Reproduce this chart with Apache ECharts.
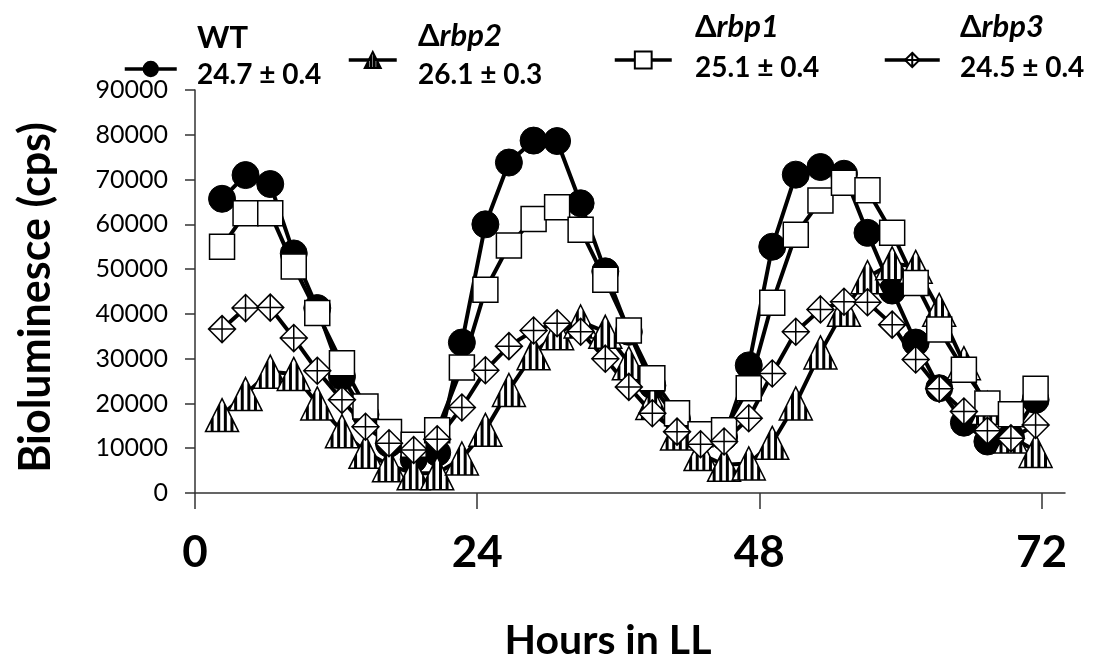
<!DOCTYPE html>
<html><head><meta charset="utf-8">
<script src="https://cdn.jsdelivr.net/npm/echarts@6/dist/echarts.min.js"></script>
<style>html,body{margin:0;padding:0;background:#fff}#c{width:1106px;height:660px}</style>
</head><body><div id="c"></div>
<script>
// ---- data ----
const hours = [2.3, 4.3, 6.4, 8.4, 10.4, 12.5, 14.5, 16.5, 18.6, 20.6, 22.7, 24.7, 26.7, 28.8, 30.8, 32.8, 34.9, 36.9, 38.9, 41.0, 43.0, 45.0, 47.1, 49.1, 51.1, 53.2, 55.2, 57.2, 59.3, 61.3, 63.3, 65.4, 67.4, 69.4, 71.5];
const wt   = [65700, 71000, 69000, 53500, 41300, 26000, 17500, 11000, 7500, 9000, 33600, 60000, 73800, 78700, 78600, 64700, 49500, 36000, 24000, 16500, 12000, 12500, 28500, 55000, 71100, 72800, 71300, 58100, 45200, 33600, 23400, 15700, 11500, 12500, 20800];
const rbp2 = [17400, 22100, 27100, 26600, 20000, 13800, 9200, 6200, 4400, 4400, 7700, 14100, 23000, 31200, 35700, 38300, 36000, 29000, 20100, 13300, 8700, 6300, 6600, 11200, 20000, 31400, 40900, 48200, 51300, 50500, 40900, 29000, 19000, 12600, 9400];
const rbp1 = [55000, 62500, 62500, 50600, 40200, 29000, 19300, 13600, 10800, 14000, 28000, 45400, 55300, 61200, 63800, 58800, 47600, 36300, 25600, 17800, 13100, 14000, 23400, 42500, 57700, 65300, 69300, 67600, 58100, 46900, 36500, 27500, 20000, 17600, 23300];
const rbp3 = [36600, 41300, 41400, 34600, 27300, 20800, 14800, 11100, 9600, 12000, 19100, 27400, 32800, 36300, 37900, 36000, 30000, 23700, 17800, 13700, 10900, 11500, 16700, 26700, 36000, 41000, 42700, 42600, 37600, 29800, 23300, 18200, 13900, 12200, 15200];
const seriesNames = ['WT', 'Δrbp2', 'Δrbp1', 'Δrbp3'];
const strainItalic = ['', 'rbp2', 'rbp1', 'rbp3'];
const periods = ['24.7 ± 0.4', '26.1 ± 0.3', '25.1 ± 0.4', '24.5 ± 0.4'];
const xTicks = [0, 24, 48, 72];
const xTitle = 'Hours in LL';
const yTitle = 'Bioluminesce (cps)';

// ---- styles ----
const FONT = 'Lato, "Open Sans", sans-serif';
// striped triangle: outline + vertical stripes (pairs of hairlines form each black band)
const stripeXs = [-6, -2, 2, 6];
let triPath = 'path://M0,0L10,20L-10,20Z';
stripeXs.forEach(x => {
  [x - 0.45, x + 0.45].forEach(xx => {
    const top = 2 * Math.abs(xx);
    triPath += 'M' + xx + ',' + top + 'L' + xx + ',20';
  });
});
const diamondPath = 'path://M0,-10L10,0L0,10L-10,0Z M0,-10L0,10 M-10,0L10,0';

const pair = arr => hours.map((h, i) => [h, arr[i]]);

const symbols = ['circle', triPath, 'rect', diamondPath];
const sizes = [27, 33, 25, 27];
const fills = ['#000', '#fff', '#fff', '#fff'];
const datas = [wt, rbp2, rbp1, rbp3];

const legIconLeft = [123, 347, 613, 883];
const legIconW = [52, 48, 57, 55];
const legIconH = [18, 20, 21, 18];
const legIconY = [69, 60, 60, 60];
const legTextLeft = [197, 418, 695, 960];
const nameTop = [22, 20, 11, 11];
const valTop = [61, 61, 54, 54];

const chart = echarts.init(document.getElementById('c'), null, { renderer: 'canvas' });
chart.setOption({
  animation: false,
  backgroundColor: '#fff',
  grid: { left: 195, right: 41, top: 90, bottom: 167, containLabel: false, outerBoundsMode: 'none' },
  xAxis: {
    type: 'value', min: 0, max: 74, interval: 24,
    axisLine: { show: true, onZero: false, lineStyle: { color: '#333', width: 1.5 } },
    axisTick: { show: true, customValues: xTicks, length: 16, lineStyle: { color: '#333', width: 1.5 } },
    axisLabel: { customValues: xTicks, fontFamily: FONT, fontWeight: 'bold', fontSize: 44, color: '#000', margin: 38 },
    splitLine: { show: false },
    name: xTitle, nameLocation: 'middle', nameGap: 127,
    nameTextStyle: { fontFamily: FONT, fontWeight: 'bold', fontSize: 41, color: '#000', padding: [0, 44, 0, 0] }
  },
  yAxis: {
    type: 'value', min: 0, max: 90000, interval: 10000,
    axisLine: { show: true, lineStyle: { color: '#333', width: 1.5 } },
    axisTick: { show: true, length: 10, lineStyle: { color: '#333', width: 1.5 } },
    axisLabel: { fontFamily: FONT, fontSize: 25, color: '#000', margin: 27, formatter: v => String(v) },
    splitLine: { show: false },
    name: yTitle, nameLocation: 'middle', nameRotate: 90, nameGap: 137,
    nameTextStyle: { fontFamily: FONT, fontWeight: 'bold', fontSize: 43, color: '#000', padding: [0, 12, 0, 0] }
  },
  legend: seriesNames.map((n, i) => ({
    data: [n], left: legIconLeft[i], top: legIconY[i] - legIconH[i] / 2, padding: 0,
    itemWidth: legIconW[i], itemHeight: legIconH[i],
    selectedMode: false,
    formatter: () => '',
    textStyle: { fontSize: 1 },
    lineStyle: { color: '#000', width: 3.5 }
  })),
  graphic: seriesNames.map((n, i) => ({
    type: 'text', left: legTextLeft[i], top: nameTop[i], silent: true,
    style: i === 0
      ? { text: n, font: 'bold 31px ' + FONT, fill: '#000' }
      : { text: '{d|Δ}{i|' + strainItalic[i] + '}', fill: '#000',
          rich: { d: { fontFamily: FONT, fontWeight: 'bold', fontSize: 31, fill: '#000' },
                  i: { fontFamily: FONT, fontWeight: 'bold', fontStyle: 'italic', fontSize: 31, fill: '#000' } } }
  })).concat(periods.map((p, i) => ({
    type: 'text', left: legTextLeft[i], top: valTop[i], silent: true,
    style: { text: p, font: 'bold 28px ' + FONT, fill: '#000' }
  }))),
  series: seriesNames.map((n, i) => ({
    name: n, type: 'line', data: pair(datas[i]),
    symbol: symbols[i], symbolSize: sizes[i], showSymbol: true, showAllSymbol: true,
    lineStyle: { color: '#000', width: 4 },
    itemStyle: { color: fills[i], borderColor: '#000', borderWidth: i === 0 ? 1 : 1.5 },
    emphasis: { disabled: true }
  }))
});
</script></body></html>
